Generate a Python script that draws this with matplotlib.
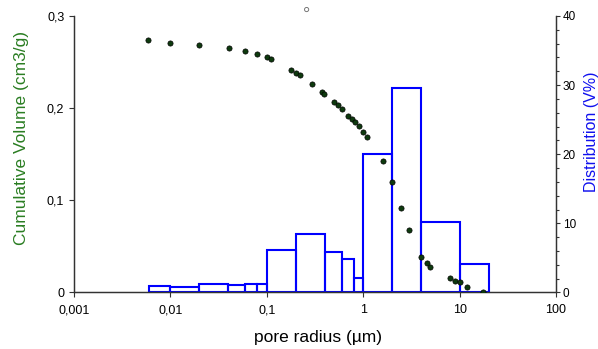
import matplotlib
matplotlib.use("Agg")
import matplotlib.pyplot as plt
from matplotlib.ticker import FixedLocator, FuncFormatter, MultipleLocator

plt.rcParams['font.family'] = ['Liberation Sans', 'DejaVu Sans']

# cumulative pore volume (cm3/g) vs pore radius (um)
radius = [0.0059, 0.0099, 0.0200, 0.0402, 0.0598, 0.0791, 0.0998, 0.1106,
          0.178, 0.1995, 0.221, 0.296, 0.377, 0.392, 0.502, 0.552, 0.607,
          0.700, 0.760, 0.822, 0.904, 1.002, 1.104, 1.59, 1.99, 2.48, 2.99,
          3.95, 4.56, 4.97, 7.89, 9.02, 10.1, 12.0, 17.4]
cum_volume = [0.2736, 0.2704, 0.2685, 0.2653, 0.2623, 0.2584, 0.2555, 0.2533,
              0.2414, 0.2378, 0.2357, 0.2259, 0.2175, 0.2154, 0.2064, 0.2034,
              0.1988, 0.1918, 0.1882, 0.1847, 0.1810, 0.1745, 0.1684, 0.1430,
              0.1202, 0.0920, 0.0678, 0.0388, 0.0317, 0.0280, 0.0161, 0.0128,
              0.0117, 0.0063, 0.0005]

# stray open point above the frame
outlier_r = [0.259]
outlier_v = [0.307]

# volume distribution (%) per radius class
bin_left = [0.006, 0.01, 0.02, 0.04, 0.06, 0.08, 0.1, 0.2, 0.4, 0.6, 0.8, 1, 2, 4, 10]
bin_right = [0.01, 0.02, 0.04, 0.06, 0.08, 0.1, 0.2, 0.4, 0.6, 0.8, 1, 2, 4, 10, 20]
dist_pct = [0.98, 0.84, 1.19, 1.04, 1.27, 1.27, 6.1, 8.4, 5.8, 4.85, 2.05, 20.1, 29.6, 10.2, 4.08]

x_ticks = [0.001, 0.01, 0.1, 1, 10, 100]
x_ticklabels = ["0,001", "0,01", "0,1", "1", "10", "100"]

fig = plt.figure(figsize=(5.98, 3.49), dpi=100)
ax = fig.add_axes([0.1237, 0.1619, 0.806, 0.7923])
ax2 = ax.twinx()

# histogram on the right axis
widths = [r - l for l, r in zip(bin_left, bin_right)]
ax2.bar(bin_left, dist_pct, width=widths, align='edge', fill=False,
        edgecolor='#0000ff', linewidth=1.5)
ax2.set_ylim(0, 40)
ax2.yaxis.set_major_locator(MultipleLocator(10))
ax2.yaxis.set_minor_locator(MultipleLocator(2))
ax2.tick_params(axis='y', which='major', labelsize=8.5, length=3, width=0.8,
                pad=2, color='#333333')
ax2.tick_params(axis='y', which='minor', length=2.5, width=0.8, color='#333333')
ax2.set_ylabel("Distribution (V%)", color='#1010ee', fontsize=11.5)
ax2.yaxis.set_label_coords(1.058, 0.58)

# cumulative curve on top
ax.set_zorder(ax2.get_zorder() + 1)
ax.patch.set_visible(False)
ax.scatter(radius, cum_volume, s=14, color='#0e3a0e', edgecolors='black',
           linewidths=0.5, zorder=5)
ax.scatter(outlier_r, outlier_v, s=9, facecolors='none', edgecolors='#777777',
           linewidths=0.7, clip_on=False)

ax.set_xscale('log')
ax.set_xlim(0.001, 100)
ax.set_ylim(0, 0.3)
ax.xaxis.set_major_locator(FixedLocator(x_ticks))
ax.xaxis.set_major_formatter(FuncFormatter(lambda v, p: x_ticklabels[x_ticks.index(v)] if v in x_ticks else ""))
ax.xaxis.set_minor_locator(FixedLocator([]))
ax.yaxis.set_major_locator(FixedLocator([0, 0.1, 0.2, 0.3]))
ax.yaxis.set_major_formatter(FuncFormatter(lambda v, p: ("%g" % round(v, 3)).replace(".", ",")))
ax.tick_params(axis='both', labelsize=9, length=3.5, width=0.8, color='#333333')
ax.tick_params(axis='x', pad=5)

ax.set_xlabel("pore radius (µm)", fontsize=12.5)
ax.xaxis.set_label_coords(0.507, -0.135)
ax.set_ylabel("Cumulative Volume (cm3/g)", color='#2a7d22', fontsize=12.5)
ax.yaxis.set_label_coords(-0.093, 0.56)

for a in (ax, ax2):
    a.spines['top'].set_visible(False)
    for side in ('left', 'right', 'bottom'):
        a.spines[side].set_color('#333333')
        a.spines[side].set_linewidth(0.9)

fig.savefig("out.png", dpi=100)
